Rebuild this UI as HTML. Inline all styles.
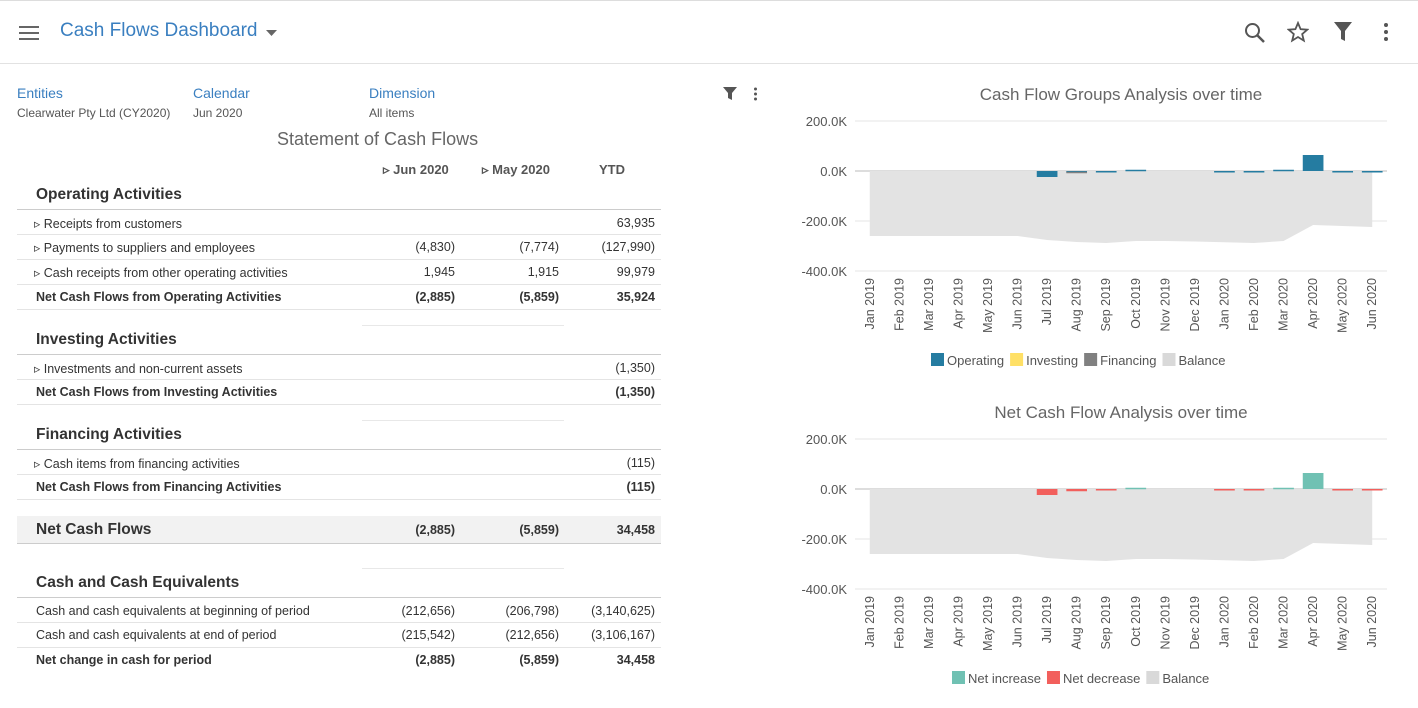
<!DOCTYPE html>
<html><head><meta charset="utf-8"><style>
body{margin:0;width:1418px;height:708px;background:#fff;font-family:"Liberation Sans",sans-serif;position:relative;overflow:hidden;color:#333}
.a{position:absolute;white-space:nowrap}
.hd{position:absolute;left:0;top:0;width:1418px;height:62px;border-top:1px solid #ddd;border-bottom:1px solid #e2e2e2}
.row{position:absolute;left:17px;width:644px;height:25px;border-bottom:1px solid #e4e4e4;font-size:12.5px}
.row span{position:absolute;top:6px}
.r1{right:206px}.r2{right:102px}.r3{right:6px}
.sec{position:absolute;left:36px;font-size:15.5px;font-weight:bold;color:#333}
.seg{position:absolute;left:362px;width:202px;border-top:1px solid #e8e8e8}
.b{font-weight:bold}
</style></head><body>
<div class="hd">
 <svg class="a" style="left:19px;top:24px" width="20" height="16"><rect y="1" width="20" height="2" fill="#666"/><rect y="7" width="20" height="2" fill="#666"/><rect y="13" width="20" height="2" fill="#666"/></svg>
 <div class="a" style="left:60px;top:19px;font-size:19px;color:#3a7fc0">Cash Flows Dashboard</div>
 <svg class="a" style="left:266px;top:28px" width="12" height="8"><path d="M0 1h11l-5.5 6z" fill="#666"/></svg>
 <svg class="a" style="left:1244px;top:21px" width="22" height="22"><circle cx="8.5" cy="8.5" r="6.5" stroke="#555" stroke-width="2" fill="none"/><path d="M13 13l7 7" stroke="#555" stroke-width="2.5"/></svg>
 <svg class="a" style="left:1287px;top:20px" width="22" height="22"><path d="M11 2l2.6 6.2 6.7.5-5.1 4.4 1.6 6.5L11 16l-5.8 3.6 1.6-6.5L1.7 8.7l6.7-.5z" fill="none" stroke="#555" stroke-width="1.8"/></svg>
 <svg class="a" style="left:1333px;top:20px" width="20" height="22"><path d="M1 1h18l-7 9v10l-4-2v-8z" fill="#555"/></svg>
 <svg class="a" style="left:1383px;top:21px" width="6" height="20"><circle cx="3" cy="3" r="2" fill="#555"/><circle cx="3" cy="10" r="2" fill="#555"/><circle cx="3" cy="17" r="2" fill="#555"/></svg>
</div>

<div class="a" style="left:17px;top:85px;font-size:14px;color:#3a7fc0">Entities</div>
<div class="a" style="left:17px;top:106px;font-size:12px;color:#555">Clearwater Pty Ltd (CY2020)</div>
<div class="a" style="left:193px;top:85px;font-size:14px;color:#3a7fc0">Calendar</div>
<div class="a" style="left:193px;top:106px;font-size:12px;color:#555">Jun 2020</div>
<div class="a" style="left:369px;top:85px;font-size:14px;color:#3a7fc0">Dimension</div>
<div class="a" style="left:369px;top:106px;font-size:12px;color:#555">All items</div>
<svg class="a" style="left:723px;top:86px" width="14" height="15"><path d="M0 1h14l-5 6v7l-4-2v-5z" fill="#555"/></svg>
<svg class="a" style="left:753px;top:87px" width="5" height="14"><circle cx="2.5" cy="2" r="1.5" fill="#555"/><circle cx="2.5" cy="7" r="1.5" fill="#555"/><circle cx="2.5" cy="12" r="1.5" fill="#555"/></svg>
<div class="a" style="left:277px;top:129px;font-size:18px;color:#666">Statement of Cash Flows</div>

<div class="a b" style="left:383px;top:162px;font-size:13px;color:#555">▹ Jun 2020</div>
<div class="a b" style="left:482px;top:162px;font-size:13px;color:#555">▹ May 2020</div>
<div class="a b" style="left:599px;top:162px;font-size:13px;color:#555">YTD</div>

<div class="sec" style="top:186px">Operating Activities</div>
<div class="row" style="top:209px;border-top:1px solid #ccc;height:24px"><span style="left:17px">▹ Receipts from customers</span><span class="r3">63,935</span></div>
<div class="row" style="top:234px"><span style="left:17px">▹ Payments to suppliers and employees</span><span class="r1">(4,830)</span><span class="r2">(7,774)</span><span class="r3">(127,990)</span></div>
<div class="row" style="top:259px"><span style="left:17px">▹ Cash receipts from other operating activities</span><span class="r1">1,945</span><span class="r2">1,915</span><span class="r3">99,979</span></div>
<div class="row b" style="top:284px"><span style="left:19px">Net Cash Flows from Operating Activities</span><span class="r1">(2,885)</span><span class="r2">(5,859)</span><span class="r3">35,924</span></div>
<div class="seg" style="top:325px"></div>

<div class="sec" style="top:331px">Investing Activities</div>
<div class="row" style="top:354px;border-top:1px solid #ccc;height:24px"><span style="left:17px">▹ Investments and non-current assets</span><span class="r3">(1,350)</span></div>
<div class="row b" style="top:379px"><span style="left:19px">Net Cash Flows from Investing Activities</span><span class="r3">(1,350)</span></div>
<div class="seg" style="top:420px"></div>

<div class="sec" style="top:426px">Financing Activities</div>
<div class="row" style="top:449px;border-top:1px solid #ccc;height:24px"><span style="left:17px">▹ Cash items from financing activities</span><span class="r3">(115)</span></div>
<div class="row b" style="top:474px"><span style="left:19px">Net Cash Flows from Financing Activities</span><span class="r3">(115)</span></div>

<div class="row b" style="top:516px;height:27px;background:#f2f2f2;border-bottom:1px solid #ccc"><span style="left:19px;top:5px;font-size:15.5px">Net Cash Flows</span><span class="r1" style="top:7px">(2,885)</span><span class="r2" style="top:7px">(5,859)</span><span class="r3" style="top:7px">34,458</span></div>
<div class="seg" style="top:568px"></div>

<div class="sec" style="top:574px">Cash and Cash Equivalents</div>
<div class="row" style="top:597px;border-top:1px solid #ccc;height:24px"><span style="left:19px">Cash and cash equivalents at beginning of period</span><span class="r1">(212,656)</span><span class="r2">(206,798)</span><span class="r3">(3,140,625)</span></div>
<div class="row" style="top:622px"><span style="left:19px">Cash and cash equivalents at end of period</span><span class="r1">(215,542)</span><span class="r2">(212,656)</span><span class="r3">(3,106,167)</span></div>
<div class="row b" style="top:647px;border-bottom:none"><span style="left:19px">Net change in cash for period</span><span class="r1">(2,885)</span><span class="r2">(5,859)</span><span class="r3">34,458</span></div>

<svg id="c1" class="a" style="left:780px;top:75px" width="638" height="300"></svg>
<svg id="c2" class="a" style="left:780px;top:393px" width="638" height="300"></svg>

<script>
const months=["Jan 2019","Feb 2019","Mar 2019","Apr 2019","May 2019","Jun 2019","Jul 2019","Aug 2019","Sep 2019","Oct 2019","Nov 2019","Dec 2019","Jan 2020","Feb 2020","Mar 2020","Apr 2020","May 2020","Jun 2020"];
const operating=[0,0,0,0,0,0,-24,-3,-4,5,0,0,-4,-4,5,64,-4,-4];
const investing=[0,0,0,0,0,0,0,0,0,0,0,0,0,0,0,0,0,0];
const financing=[0,0,0,0,0,0,0,-6,0,0,0,0,0,0,0,0,0,0];
const balance=[-260,-260,-260,-260,-260,-260,-276,-284,-288,-280,-280,-282,-285,-288,-280,-216,-220,-224];
const netFlow=[0,0,0,0,0,0,-24,-9,-4,5,0,0,-4,-4,5,64,-4,-4];
const yTicks=[200,0,-200,-400];
const yTickLabels=["200.0K","0.0K","-200.0K","-400.0K"];
const NS="http://www.w3.org/2000/svg";
function mk(p,t,a){const e=document.createElementNS(NS,t);for(const k in a)e.setAttribute(k,a[k]);p.appendChild(e);return e;}
function chart(svg,title,series,legend){
  const L=75,R=607,T=46,B=196,ymax=200,ymin=-400;
  const step=(R-L)/months.length;
  const x=i=>L+step*(i+0.5);
  const y=v=>T+(ymax-v)/(ymax-ymin)*(B-T);
  const t=mk(svg,'text',{x:(L+R)/2,y:25,'text-anchor':'middle','font-size':17,fill:'#666'});t.textContent=title;
  
  
  yTicks.forEach((v,i)=>{
    mk(svg,'line',{x1:L,x2:R,y1:y(v),y2:y(v),stroke:v===0?'#ddd':'#e6e6e6','stroke-width':v===0?2:1});
    const l=mk(svg,'text',{x:L-8,y:y(v)+5,'text-anchor':'end','font-size':13,fill:'#555'});l.textContent=yTickLabels[i];
    
    
  });
  let d='M'+x(0)+' '+y(0);
  balance.forEach((v,i)=>{d+=' L'+x(i)+' '+y(v);});
  d+=' L'+x(balance.length-1)+' '+y(0)+'Z';
  const a=mk(svg,'path',{d:d,fill:'#e3e3e3'});
  
  
  const bw=step*0.7;
  months.forEach((m,i)=>{
    let pos=0,neg=0;
    series.forEach(s=>{
      const v=s.vals[i];if(!v)return;
      const col=typeof s.color==='function'?s.color(v):s.color;
      let y0,y1;
      if(v>0){y0=y(pos+v);y1=y(pos);pos+=v;}else{y0=y(neg);y1=y(neg+v);neg+=v;}
      const r=mk(svg,'rect',{x:x(i)-bw/2,y:y0,width:bw,height:Math.max(1.5,y1-y0),fill:col});
      
      
    });
    const lt=mk(svg,'text',{transform:'translate('+(x(i)+4)+','+(B+7)+') rotate(-90)','text-anchor':'end','font-size':12.5,fill:'#555'});
    lt.textContent=m;
    
    
  });
  let lx=legend.start;
  legend.items.forEach(it=>{
    mk(svg,'rect',{x:lx,y:278,width:13,height:13,fill:it.c});
    const tx=mk(svg,'text',{x:lx+16,y:290,'font-size':13,fill:'#555'});tx.textContent=it.n;
    
    
    lx+=16+tx.getComputedTextLength()+6;
  });
}
chart(document.getElementById('c1'),'Cash Flow Groups Analysis over time',
 [{name:'operating',vals:operating,color:'#257ca1'},{name:'investing',vals:investing,color:'#ffe066'},{name:'financing',vals:financing,color:'#808080'}],
 {start:151,items:[{n:'Operating',c:'#257ca1'},{n:'Investing',c:'#ffe066'},{n:'Financing',c:'#808080'},{n:'Balance',c:'#d9d9d9'}]});
chart(document.getElementById('c2'),'Net Cash Flow Analysis over time',
 [{name:'net',vals:netFlow,color:v=>v>0?'#70c1b3':'#f25f5c'}],
 {start:172,items:[{n:'Net increase',c:'#70c1b3'},{n:'Net decrease',c:'#f25f5c'},{n:'Balance',c:'#d9d9d9'}]});
</script>
</body></html>
